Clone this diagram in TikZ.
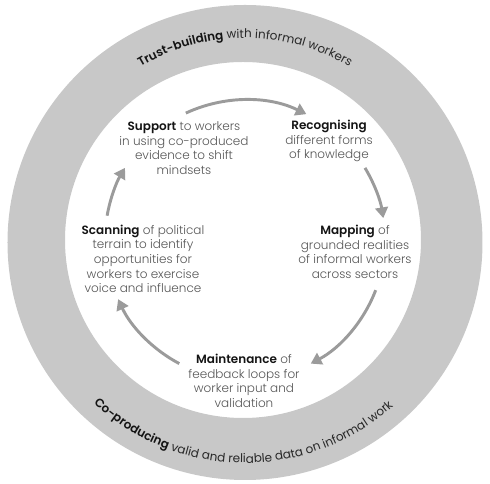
\documentclass[tikz,border=0pt]{standalone}
\usepackage{fontspec}
\setmainfont{Poppins}[UprightFont={Poppins Light}, BoldFont={Poppins SemiBold}]
\newfontfamily\ringregular{Poppins}
\usepackage{xcolor}
\usepackage{tikz}
\usetikzlibrary{arrows.meta,decorations.text}
\definecolor{ringgray}{RGB}{200,200,200}
\definecolor{arrowgray}{RGB}{155,155,155}
\definecolor{stagegray}{RGB}{85,85,85}
\definecolor{ringtext}{RGB}{40,40,40}
\definecolor{leadblack}{RGB}{20,20,20}
\newcommand{\stagelead}[1]{\textcolor{leadblack}{\textbf{#1}}}
\newcommand{\ringfont}{\fontsize{9}{11}\selectfont}

\begin{document}
\begin{tikzpicture}[x=0.75pt, y=0.75pt,
    stage/.style={align=center, font=\fontsize{9}{11}\selectfont, text=stagegray, inner sep=0pt},
    cyclearrow/.style={-{Triangle[length=8pt,width=9.5pt]}, line width=2.2pt, draw=arrowgray},
    ringlabel/.style={decorate, decoration={text along path, text align=center, #1}}]
  \useasboundingbox (-245,-243) rectangle (245,241);
  % grey ring
  \fill[ringgray, even odd rule] (0,-1.5) circle (237.5) (-2,1) circle (178);
  \coordinate (hub) at (0,1);
  \coordinate (ringc) at (0,0);
  % ring texts
  \path[ringlabel={text={|\ringfont\bfseries\color{leadblack}|Trust-building|\ringfont\ringregular\color{ringtext}| with informal workers}}]
    ([shift={(121:203)}]ringc) arc[start angle=121, end angle=59, radius=203];
  \path[ringlabel={text={|\ringfont\bfseries\color{leadblack}|Co-producing|\ringfont\ringregular\color{ringtext}| valid and reliable data on informal work}}]
    ([shift={(-138:222)}]ringc) arc[start angle=-138, end angle=-43, radius=222];
  % stages
  \node[stage] (support) at (-61,93) {\stagelead{Support} to workers\\in using co-produced\\evidence to shift\\mindsets};
  \node[stage] (recog) at (84,100) {\stagelead{Recognising}\\different forms\\of knowledge};
  \node[stage] (mapping) at (110,-11) {\stagelead{Mapping} of\\grounded realities\\of informal workers\\across sectors};
  \node[stage] (maint) at (-1,-140) {\stagelead{Maintenance} of\\feedback loops for\\worker input and\\validation};
  \node[stage] (scan) at (-102,-18) {\stagelead{Scanning} of political\\terrain to identify\\opportunities for\\workers to exercise\\voice and influence};
  % cycle arrows
  \draw[cyclearrow] ([shift={(115:140)}]hub) arc[start angle=115, end angle=64, radius=140];
  \draw[cyclearrow] ([shift={(31:140)}]hub) arc[start angle=31, end angle=9, radius=140];
  \draw[cyclearrow] ([shift={(-21:140)}]hub) arc[start angle=-21, end angle=-62, radius=140];
  \draw[cyclearrow] ([shift={(-118:140)}]hub) arc[start angle=-118, end angle=-155, radius=140];
  \draw[cyclearrow] ([shift={(170:140)}]hub) arc[start angle=170, end angle=149, radius=140];
\end{tikzpicture}
\end{document}
